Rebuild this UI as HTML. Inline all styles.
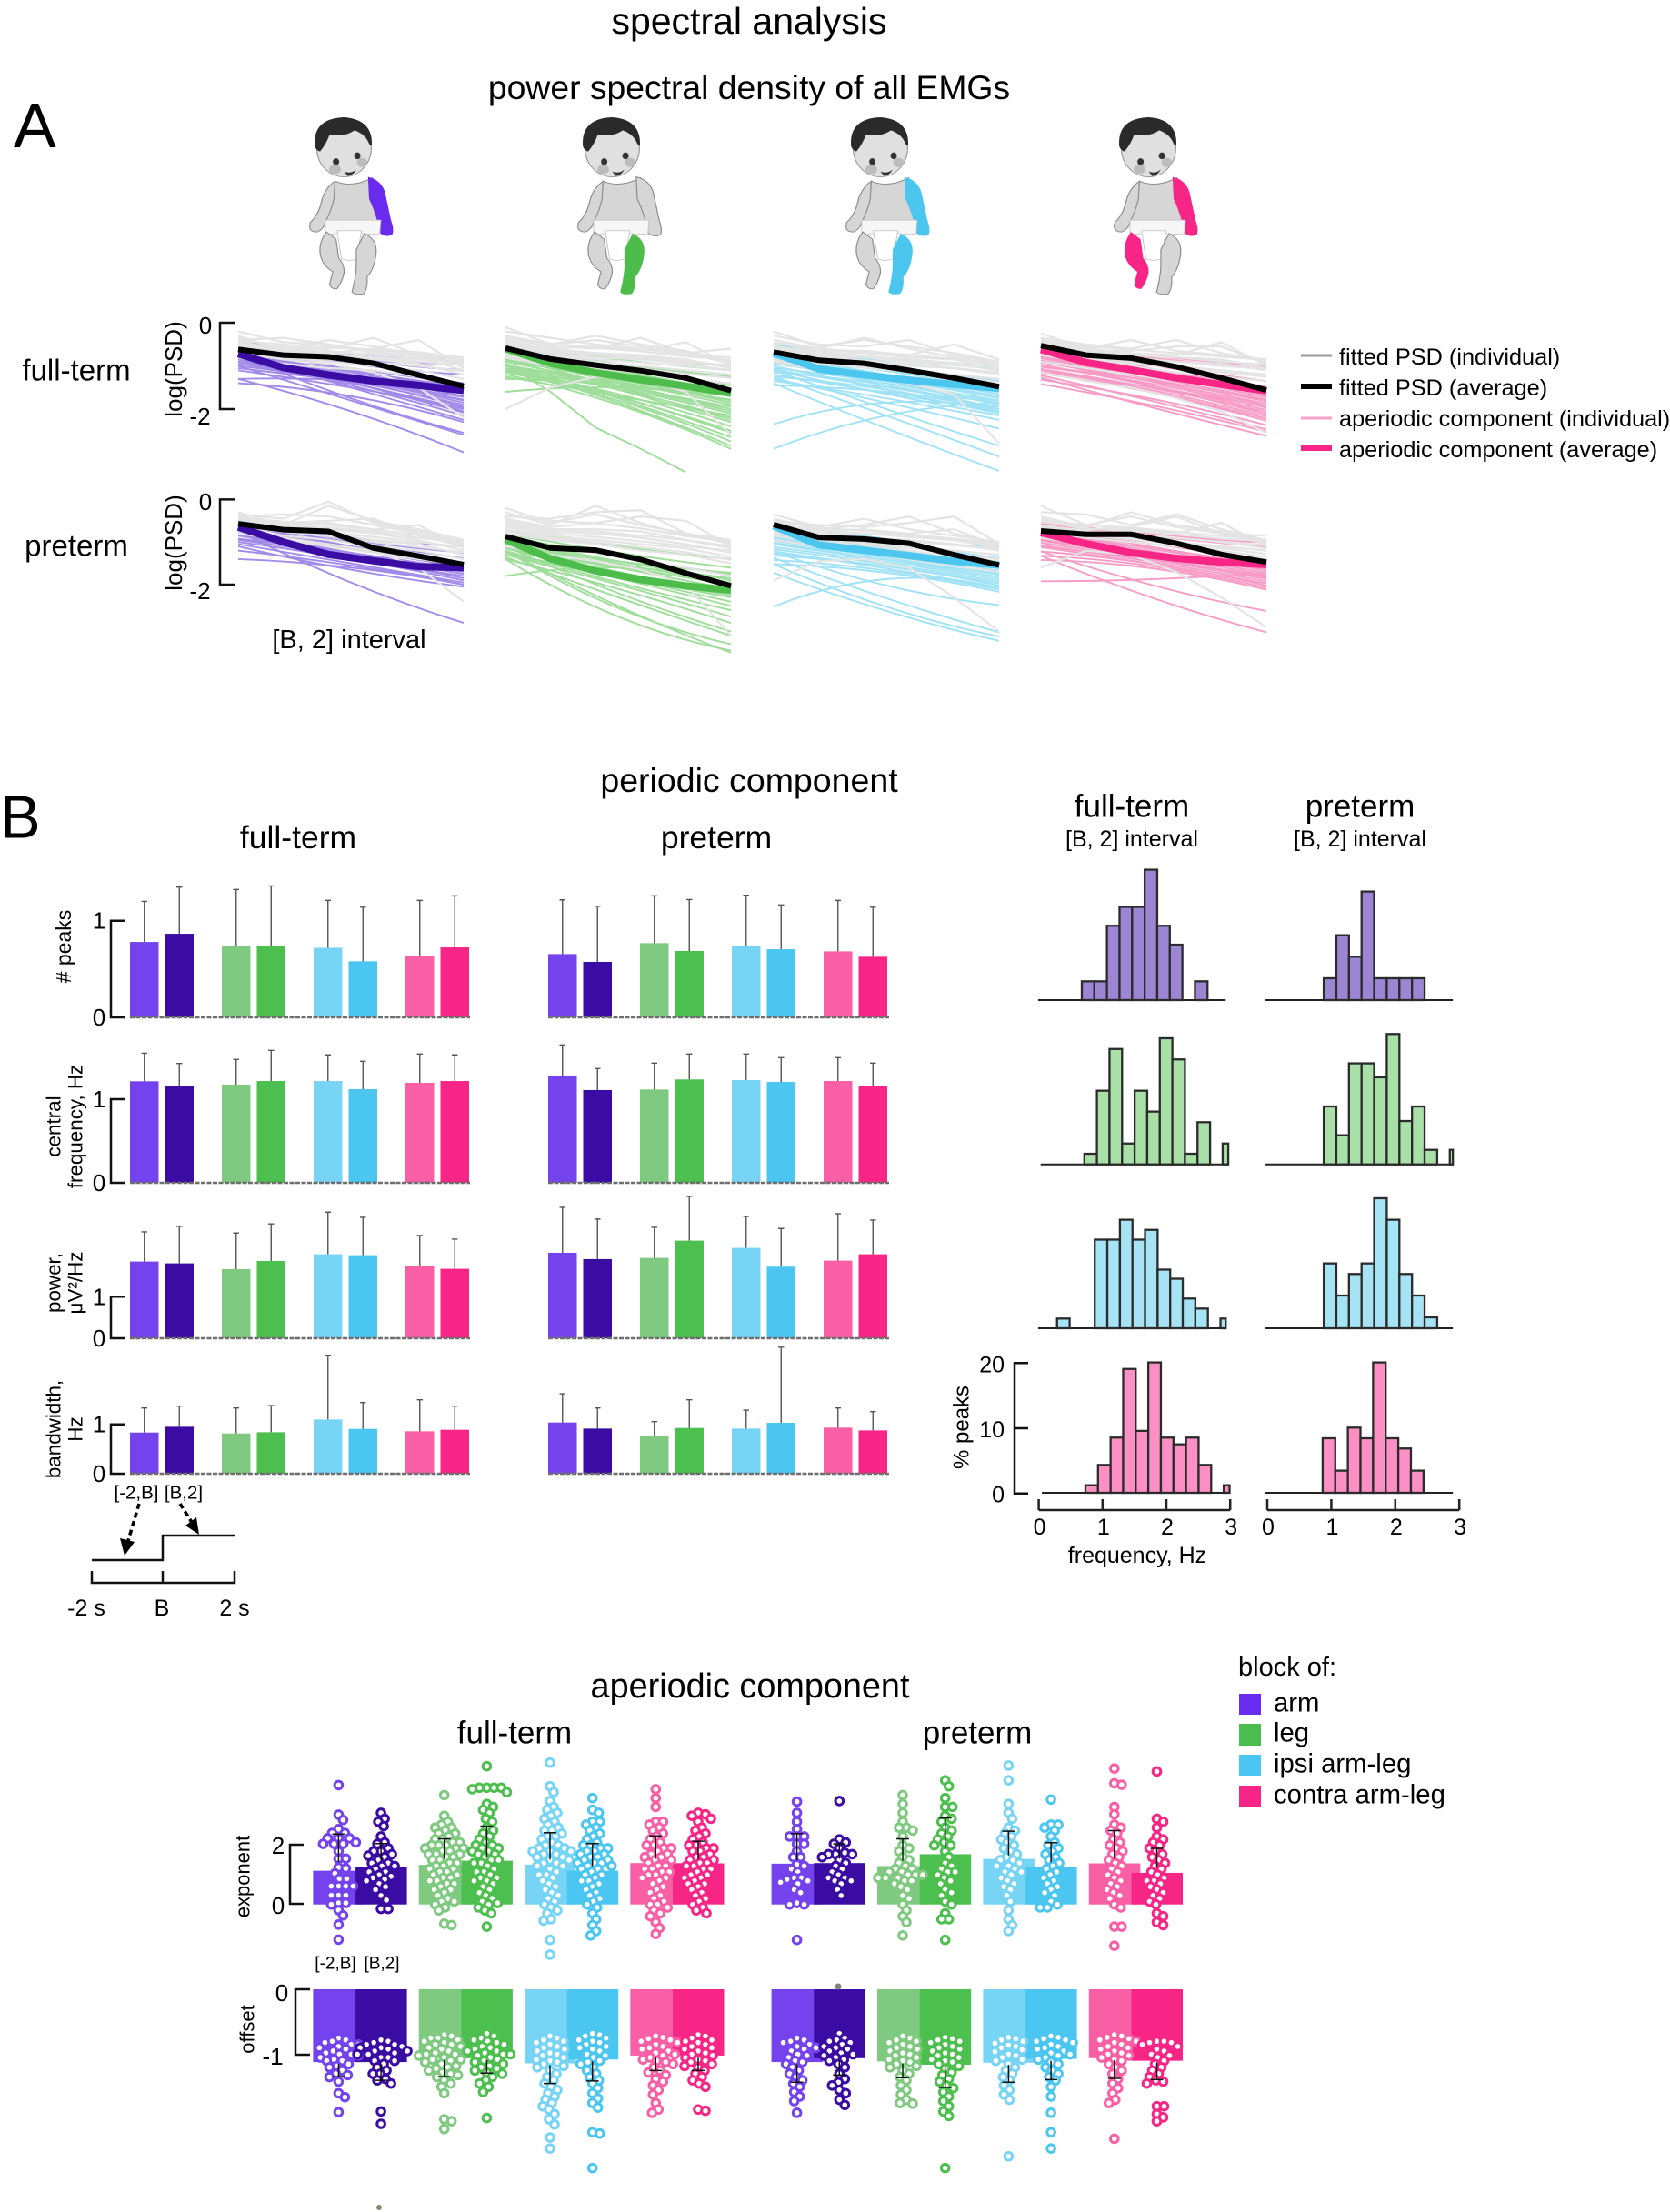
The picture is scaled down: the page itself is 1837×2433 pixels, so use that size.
<!DOCTYPE html>
<html lang="en"><head><meta charset="utf-8"><title>spectral analysis</title>
<style>
html,body{margin:0;padding:0;background:#fff}
svg{display:block}
text{font-family:"Liberation Sans",sans-serif;fill:#000;dominant-baseline:central}
.m{text-anchor:middle}
.e{text-anchor:end}
</style></head><body>
<svg id="fig" xmlns="http://www.w3.org/2000/svg" width="1837" height="2433" viewBox="0 0 1837 2433">
<rect width="1837" height="2433" fill="#fff"/>
<text x="824" y="23" class="m" font-size="41">spectral analysis</text>
<text x="824" y="96" class="m" font-size="37.3">power spectral density of all EMGs</text>
<text x="15" y="138" font-size="70">A</text>
<text x="84" y="407" class="m" font-size="33">full-term</text>
<text x="84" y="600" class="m" font-size="33">preterm</text>
<text transform="translate(191,406) rotate(-90)" class="m" font-size="26">log(PSD)</text>
<text transform="translate(191,597) rotate(-90)" class="m" font-size="26">log(PSD)</text>
<text x="384" y="704" class="m" font-size="29">[B, 2] interval</text>
<g id="babies"></g>
<g id="psd"></g>
<g>
<line x1="1431" x2="1465" y1="391" y2="391" stroke="#999" stroke-width="3"/>
<line x1="1431" x2="1465" y1="425" y2="425" stroke="#000" stroke-width="6"/>
<line x1="1431" x2="1465" y1="460" y2="460" stroke="#f7a0c9" stroke-width="3"/>
<line x1="1431" x2="1465" y1="493" y2="493" stroke="#f72585" stroke-width="6"/>
<text x="1473" y="393" font-size="25.3">fitted PSD (individual)</text>
<text x="1473" y="427" font-size="25.3">fitted PSD (average)</text>
<text x="1473" y="461" font-size="25.3">aperiodic component (individual)</text>
<text x="1473" y="495" font-size="25.3">aperiodic component (average)</text>
</g>
<text x="824" y="858" class="m" font-size="37.5">periodic component</text>
<text x="0" y="899" font-size="67">B</text>
<text x="328" y="921" class="m" font-size="35.5">full-term</text>
<text x="788" y="921" class="m" font-size="35.5">preterm</text>
<text transform="translate(70,1041) rotate(-90)" class="m" font-size="23"># peaks</text>
<text transform="translate(59,1239) rotate(-90)" class="m" font-size="22.4">central</text>
<text transform="translate(83,1239) rotate(-90)" class="m" font-size="22.4">frequency, Hz</text>
<text transform="translate(59,1411) rotate(-90)" class="m" font-size="22.4">power,</text>
<text transform="translate(83,1411) rotate(-90)" class="m" font-size="22.4">μV²/Hz</text>
<text transform="translate(59,1572) rotate(-90)" class="m" font-size="22.4">bandwidth,</text>
<text transform="translate(83,1572) rotate(-90)" class="m" font-size="22.4">Hz</text>
<g id="bars"></g>
<g>
<text x="150" y="1642" class="m" font-size="20.5">[-2,B]</text>
<text x="202" y="1642" class="m" font-size="20.5">[B,2]</text>
<line x1="153" y1="1654" x2="140" y2="1698" stroke="#000" stroke-width="3.5" stroke-dasharray="6 4"/>
<polygon points="132,1692 148,1696 137,1711" fill="#000"/>
<line x1="198" y1="1654" x2="212" y2="1676" stroke="#000" stroke-width="3.5" stroke-dasharray="6 4"/>
<polygon points="204,1678 216,1669 219,1688" fill="#000"/>
<path d="M101 1716H179V1689H258" fill="none" stroke="#111" stroke-width="2.5"/>
<path d="M101 1728V1741H258V1728M179 1728V1741" fill="none" stroke="#111" stroke-width="2.5"/>
<text x="95" y="1769" class="m" font-size="25">-2 s</text>
<text x="178" y="1769" class="m" font-size="25">B</text>
<text x="258" y="1769" class="m" font-size="25">2 s</text>
</g>
<text x="1245" y="887" class="m" font-size="35">full-term</text>
<text x="1496" y="887" class="m" font-size="35">preterm</text>
<text x="1245" y="923" class="m" font-size="25">[B, 2] interval</text>
<text x="1496" y="923" class="m" font-size="25">[B, 2] interval</text>
<g id="hists"></g>
<text transform="translate(1058,1570) rotate(-90)" class="m" font-size="24">% peaks</text>
<text x="1251" y="1711" class="m" font-size="25">frequency, Hz</text>
<text x="825" y="1855" class="m" font-size="37.8">aperiodic component</text>
<text x="566" y="1906" class="m" font-size="35">full-term</text>
<text x="1075" y="1906" class="m" font-size="35">preterm</text>
<text transform="translate(267,2064) rotate(-90)" class="m" font-size="22">exponent</text>
<text transform="translate(272,2232) rotate(-90)" class="m" font-size="22">offset</text>
<text x="369" y="2160" class="m" font-size="19">[-2,B]</text>
<text x="420" y="2160" class="m" font-size="19">[B,2]</text>
<g id="swarms"></g>
<circle cx="417" cy="2428" r="3" fill="#8a8a70"/>
<circle cx="922" cy="2185" r="3.5" fill="#808078"/>
<g>
<text x="1362" y="1834" font-size="29">block of:</text>
<rect x="1363" y="1863" width="24" height="23" fill="#6a2cef"/>
<rect x="1363" y="1896" width="24" height="24" fill="#4cbd4f"/>
<rect x="1363" y="1930" width="24" height="23" fill="#4ac6f0"/>
<rect x="1363" y="1964" width="24" height="24" fill="#f72585"/>
<text x="1401" y="1873" font-size="29.3">arm</text>
<text x="1401" y="1906" font-size="29.3">leg</text>
<text x="1401" y="1940" font-size="29.3">ipsi arm-leg</text>
<text x="1401" y="1974" font-size="29.3">contra arm-leg</text>
</g>
</svg>
<script>
// ---------- Section A data (log PSD values) ----------
const ftArmFitted=[-.62,-.75,-.79,-.94,-1.21,-1.47];
const ftArmAperiodic=[-.72,-1.04,-1.21,-1.35,-1.45,-1.57];
const ftLegFitted=[-.59,-.84,-.98,-1.11,-1.28,-1.57];
const ftLegAperiodic=[-.6,-.94,-1.16,-1.32,-1.47,-1.63];
const ftIpsiFitted=[-.68,-.87,-.94,-1.1,-1.28,-1.48];
const ftIpsiAperiodic=[-.7,-1.07,-1.21,-1.33,-1.43,-1.52];
const ftContraFitted=[-.53,-.75,-.82,-1.02,-1.28,-1.56];
const ftContraAperiodic=[-.62,-.92,-1.09,-1.28,-1.43,-1.58];
const ptArmFitted=[-.57,-.71,-.75,-1.14,-1.33,-1.53];
const ptArmAperiodic=[-.65,-1,-1.29,-1.44,-1.58,-1.6];
const ptLegFitted=[-.87,-1.14,-1.19,-1.41,-1.73,-2.03];
const ptLegAperiodic=[-.94,-1.39,-1.68,-1.88,-2.03,-2.13];
const ptIpsiFitted=[-.59,-.89,-.93,-1.03,-1.3,-1.54];
const ptIpsiAperiodic=[-.62,-1.07,-1.19,-1.32,-1.45,-1.54];
const ptContraFitted=[-.74,-.82,-.82,-1.03,-1.29,-1.47];
const ptContraAperiodic=[-.78,-1.04,-1.25,-1.38,-1.47,-1.53];

const ftArmGray=[[-.35,-.6,-.55,-.65,-.7,-.8],[-.2,-.45,-.5,-.7,-.75,-.85],[-.4,-.35,-.5,-.65,-.85,-.9],[-.45,-.6,-.4,-.55,-.75,-.95],[-.3,-.65,-.6,-.35,-.75,-1],[-.5,-.55,-.7,-.6,-.4,-1.05],[-.55,-.7,-.65,-.75,-.8,-1.1],[-.6,-.75,-.8,-.85,-.95,-1.2],[-.65,-.8,-.9,-1,-1.1,-1.3],[-.8,-.95,-1.05,-1.1,-1.25,-1.45],[-.7,-.85,-.95,-1.15,-1.5,-2.2],[-.45,-.65,-.72,-.8,-.85,-.88],[-.5,-.68,-.75,-.82,-.9,-.98],[-.58,-.62,-.68,-.72,-.82,-.92],[-.72,-.78,-.85,-.92,-1,-1.12],[-.42,-.5,-.58,-.62,-.68,-.82]];
const ftLegGray=[[-.1,-.5,-.4,-.55,-.7,-.6],[-.2,-.35,-.5,-.6,-.75,-.8],[-.3,-.5,-.3,-.5,-.65,-.9],[-.35,-.55,-.6,-.35,-.7,-.95],[-.4,-.6,-.55,-.65,-.45,-1],[-.5,-.6,-.7,-.75,-.85,-1.05],[-.55,-.7,-.8,-.85,-.95,-1.1],[-.65,-.8,-.9,-1,-1.1,-1.2],[-.75,-.95,-1.05,-1.15,-1.3,-1.4],[-2,-1.5,-1.25,-1.3,-1.4,-1.6],[-.8,-1,-1.1,-1.3,-1.6,-2.6],[-.45,-.62,-.7,-.78,-.88,-1],[-.6,-.75,-.85,-.92,-1,-1.1],[-.35,-.48,-.58,-.66,-.78,-.86],[-.52,-.66,-.74,-.82,-.92,-.98],[-.7,-.88,-.98,-1.06,-1.18,-1.28]];
const ftIpsiGray=[[-.2,-.55,-.4,-.55,-.7,-.9],[-.3,-.5,-.55,-.4,-.75,-.95],[-.4,-.6,-.35,-.6,-.8,-1],[-.45,-.65,-.65,-.75,-.5,-.85],[-.55,-.7,-.7,-.8,-.85,-1.05],[-.6,-.75,-.8,-.85,-.95,-1.1],[-.65,-.8,-.9,-1,-1.05,-1.2],[-.75,-.9,-1,-1.1,-1.2,-1.3],[-.85,-1.05,-1.15,-1.25,-1.35,-1.55],[-.9,-1.1,-1.25,-1.4,-1.65,-2.8],[-.55,-.67,-.77,-.85,-.93,-1],[-.67,-.77,-.87,-.95,-1.05,-1.15],[-.48,-.6,-.68,-.74,-.84,-.94],[-.78,-.94,-1.04,-1.14,-1.24,-1.38],[-.62,-.72,-.8,-.9,-.98,-1.08]];
const ftContraGray=[[-.25,-.6,-.4,-.65,-.75,-.85],[-.35,-.5,-.6,-.4,-.7,-.9],[-.4,-.65,-.65,-.55,-.55,-.95],[-.45,-.6,-.7,-.75,-.45,-1],[-.5,-.7,-.75,-.8,-.85,-1.05],[-.55,-.75,-.8,-.9,-.95,-1.1],[-.65,-.8,-.9,-1,-1.1,-1.2],[-.75,-.9,-1,-1.15,-1.25,-1.35],[-.9,-1.05,-1.2,-1.35,-1.5,-1.65],[-1.15,-1.35,-1.5,-1.75,-2.05,-2.55],[-.47,-.65,-.73,-.8,-.9,-.97],[-.6,-.75,-.83,-.9,-1,-1.07],[-.4,-.55,-.62,-.7,-.78,-.86],[-.7,-.85,-.95,-1.05,-1.15,-1.25]];
const ptArmGray=[[-.3,-.6,-.15,-.5,-.7,-.95],[-.35,-.45,-.05,-.55,-.75,-1],[-.4,-.35,-.4,-.6,-.8,-1.05],[-.45,-.55,-.5,-.45,-.85,-1.1],[-.5,-.6,-.55,-.7,-.6,-1.15],[-.55,-.65,-.7,-.8,-.95,-1.2],[-.6,-.7,-.8,-.95,-1.05,-1.3],[-.7,-.85,-.95,-1.1,-1.2,-1.4],[-.8,-.95,-1.1,-1.25,-1.4,-1.55],[-.75,-.9,-1.05,-1.2,-1.6,-2.4],[-.48,-.6,-.66,-.75,-.9,-1.02],[-.55,-.68,-.76,-.88,-1,-1.12],[-.42,-.52,-.6,-.7,-.84,-.98],[-.64,-.76,-.86,-1,-1.12,-1.24]];
const ptLegGray=[[-.2,-.55,-.35,-.6,-.8,-.95],[-.3,-.6,-.15,-.55,-.85,-1],[-.4,-.45,-.3,-.25,-.8,-1.05],[-.45,-.65,-.55,-.4,-.5,-1.1],[-.5,-.7,-.7,-.75,-.95,-1.15],[-.6,-.75,-.8,-.9,-1.05,-1.25],[-.7,-.85,-.95,-1.05,-1.15,-1.35],[-.8,-.95,-1.05,-1.2,-1.3,-1.5],[-.95,-1.1,-1.25,-1.4,-1.6,-1.8],[-1.1,-1.3,-1.45,-1.65,-2,-3.2],[-.55,-.7,-.75,-.85,-.95,-1.1],[-.65,-.8,-.88,-.98,-1.1,-1.2],[-.38,-.5,-.56,-.68,-.86,-1],[-.75,-.9,-1,-1.12,-1.24,-1.42]];
const ptIpsiGray=[[-.35,-.65,-.45,-.7,-.85,-1],[-.45,-.7,-.6,-.4,-.8,-1.05],[-.5,-.6,-.65,-.55,-.4,-1.05],[-.55,-.75,-.7,-.8,-.7,-1.1],[-.6,-.8,-.8,-.85,-.95,-1.15],[-.65,-.8,-.9,-.95,-1.05,-1.2],[-.75,-.9,-1,-1.1,-1.2,-1.3],[-.85,-1,-1.1,-1.2,-1.35,-1.45],[-.95,-1.1,-1.25,-1.4,-1.55,-1.7],[-1.9,-1.45,-1.4,-1.6,-2.3,-3.1],[-.58,-.72,-.8,-.88,-.96,-1.08],[-.68,-.82,-.9,-.98,-1.08,-1.16],[-.52,-.66,-.74,-.82,-.92,-1.04],[-.8,-.94,-1.04,-1.14,-1.28,-1.4]];
const ptContraGray=[[-.15,-.6,-.4,-.65,-.8,-.85],[-.3,-.35,-.6,-.35,-.7,-.95],[-.4,-.65,-.3,-.6,-.75,-1],[-.45,-.7,-.65,-.4,-.8,-1.05],[-.5,-.7,-.7,-.8,-.55,-1.1],[-.6,-.75,-.8,-.9,-1,-1.15],[-.65,-.8,-.9,-1,-1.1,-1.2],[-.75,-.9,-1,-1.1,-1.2,-1.35],[-.9,-1.05,-1.2,-1.3,-1.45,-1.6],[-1.6,-1.2,-1.3,-1.7,-2.3,-3],[-.52,-.68,-.74,-.82,-.92,-.98],[-.62,-.76,-.82,-.9,-1,-1.08],[-.48,-.6,-.66,-.76,-.86,-.94],[-.7,-.84,-.94,-1.04,-1.14,-1.28]];

const ftArmLines=[[-.6,-1.1,-1.55],[-.7,-1.15,-1.6],[-.75,-1.2,-1.7],[-.8,-1.2,-1.62],[-.65,-1.25,-1.8],[-.85,-1.3,-1.85],[-.9,-1.35,-1.9],[-.7,-1.3,-1.95],[-.9,-1.4,-2],[-1,-1.4,-2.05],[-.85,-1.45,-2.15],[-.75,-1.5,-2.25],[-1.05,-1.35,-1.6],[-1.3,-1.33,-1.55],[-1.4,-1.7,-2.3],[-.75,-1.75,-2.55],[-1,-1.8,-2.6],[-1.3,-2.05,-3],[-.5,-.95,-1.2],[-.45,-.85,-1.1],[-.55,-.85,-.95],[-.4,-.75,-.8],[-.62,-1.05,-1.4],[-.72,-1.12,-1.48],[-.78,-1.28,-1.78],[-.95,-1.32,-1.72],[-1.1,-1.5,-1.98],[-.68,-1.38,-2.08]];
const ftLegLines=[[-.6,-1.1,-1.6],[-.7,-1.2,-1.7],[-.65,-1.25,-1.8],[-.8,-1.3,-1.85],[-.85,-1.35,-1.9],[-.75,-1.4,-2],[-.9,-1.45,-2.05],[-1,-1.5,-2.1],[-1.05,-1.55,-2.2],[-.85,-1.55,-2.3],[-1.1,-1.65,-2.4],[-1,-1.7,-2.55],[-.95,-1.75,-2.65],[-1.15,-1.8,-2.75],[-1.05,-1.85,-2.85],[-1.2,-1.9,-2.92],[-1.6,-1.5,-1.7],[-1.3,-1.45,-1.8],[-.96,-1.6,-2.43,-2.92,-3.46],[-.55,-.95,-1.25],[-.5,-.85,-1.1],[-.5,-.8,-1],[-.62,-1.05,-1.45],[-.72,-1.15,-1.55],[-.9,-1.25,-1.65],[-.98,-1.4,-1.78],[-1.1,-1.48,-1.95],[-1.25,-1.7,-2.15],[-.78,-1.5,-2.25],[-1.12,-1.72,-2.5]];
const ftIpsiLines=[[-.7,-1.1,-1.55],[-.75,-1.2,-1.65],[-.8,-1.25,-1.7],[-.9,-1.3,-1.75],[-.85,-1.35,-1.8],[-.95,-1.35,-1.85],[-1.05,-1.4,-1.9],[-.9,-1.45,-2],[-1.15,-1.45,-2],[-1.25,-1.55,-2.05],[-1,-1.55,-2.1],[-1.45,-1.6,-1.95],[-1.1,-1.65,-2.15],[-2.35,-1.85,-2],[-2.92,-2.15,-1.85],[-1.3,-1.85,-2.45],[-1.1,-2,-2.85],[-1.25,-2.15,-3.1],[-1.4,-2.45,-3.43],[-.55,-.9,-1.15],[-.5,-.85,-1.05],[-.65,-1,-1.35],[-.72,-1.12,-1.45],[-.82,-1.22,-1.6],[-.95,-1.3,-1.7],[-1.08,-1.5,-1.85],[-1.2,-1.62,-2.05],[-1.35,-1.75,-2.25]];
const ftContraLines=[[-.57,-1.07,-1.62],[-.67,-1.17,-1.67],[-.72,-1.22,-1.72],[-.77,-1.27,-1.77],[-.82,-1.32,-1.82],[-.87,-1.37,-1.87],[-.92,-1.37,-1.92],[-1.02,-1.42,-1.97],[-.97,-1.47,-2.02],[-1.07,-1.52,-2.07],[-.87,-1.47,-2.12],[-1.12,-1.57,-2.17],[-1.17,-1.62,-2.22],[-1.07,-1.62,-2.27],[-1.32,-1.77,-2.37],[-1.22,-1.82,-2.47],[-1.42,-1.92,-2.52],[-1.27,-1.97,-2.62],[-.47,-.77,-1.02],[-.52,-.82,-1.07],[-.6,-1,-1.35],[-.7,-1.08,-1.48],[-.8,-1.2,-1.58],[-.92,-1.25,-1.7],[-1.02,-1.35,-1.8],[-1.15,-1.5,-1.95]];
const ptArmLines=[[-.6,-1.1,-1.55],[-.7,-1.15,-1.6],[-.75,-1.25,-1.7],[-.85,-1.3,-1.75],[-.8,-1.35,-1.8],[-.95,-1.35,-1.85],[-1,-1.4,-1.9],[-1.05,-1.5,-1.95],[-1.2,-1.55,-2],[-1.4,-1.6,-2],[-1.1,-1.65,-2.05],[-.75,-1.95,-2.9],[-.5,-.95,-1.25],[-.5,-.9,-1.1],[-.62,-1,-1.38],[-.72,-1.1,-1.48],[-.92,-1.25,-1.65]];
const ptLegLines=[[-.85,-1.35,-1.75],[-.9,-1.45,-1.85],[-.95,-1.5,-1.95],[-1,-1.55,-2],[-1.05,-1.6,-2.1],[-1.1,-1.7,-2.2],[-1,-1.75,-2.3],[-1.15,-1.8,-2.4],[-1.25,-1.85,-2.5],[-1.2,-1.95,-2.6],[-1.3,-2,-2.75],[-1.4,-2.1,-2.9],[-1.1,-2.2,-3.1],[-1.35,-2.3,-3.2],[-1.2,-2.55,-3.4],[-1.4,-2.75,-3.55],[-1.8,-1.6,-1.9],[-1.2,-2.5,-3.6],[-.7,-1.1,-1.4],[-.8,-1.25,-1.6],[-1.05,-1.45,-1.72],[-1.15,-1.6,-1.95],[-1.3,-1.8,-2.25]];
const ptIpsiLines=[[-.72,-1.12,-1.57],[-.77,-1.22,-1.62],[-.82,-1.27,-1.67],[-.92,-1.32,-1.72],[-.97,-1.37,-1.77],[-1.02,-1.42,-1.82],[-1.12,-1.47,-1.87],[-1.17,-1.52,-1.92],[-1.27,-1.57,-1.97],[-1.32,-1.57,-2.02],[-1.22,-1.62,-2.07],[-1.42,-1.67,-2.12],[-1.52,-1.72,-2.17],[-2.52,-1.87,-2.07],[-1.22,-2.02,-2.48],[-1.37,-2.32,-3.12],[-1.52,-2.52,-3.22],[-1.72,-2.62,-3.32],[-.57,-.92,-1.12],[-.65,-1.02,-1.38],[-.75,-1.15,-1.5],[-.88,-1.25,-1.6],[-1.05,-1.42,-1.75]];
const ptContraLines=[[-.67,-1.12,-1.57],[-.72,-1.17,-1.62],[-.77,-1.22,-1.67],[-.82,-1.27,-1.72],[-.87,-1.32,-1.77],[-.92,-1.37,-1.82],[-.97,-1.37,-1.84],[-1.02,-1.42,-1.87],[-1.07,-1.47,-1.92],[-1.12,-1.52,-1.97],[-1.22,-1.52,-2.02],[-1.32,-1.57,-2.07],[-1.42,-1.62,-2.12],[-1.92,-1.87,-1.72],[-1.22,-2.02,-2.62],[-1.32,-2.32,-3.12],[-.57,-.87,-1.12],[-.52,-.82,-1.02],[-.7,-1.05,-1.42],[-.8,-1.15,-1.52],[-.95,-1.28,-1.65],[-1.1,-1.42,-1.8]];

// ---------- Section B data (bar heights, error tops) ----------
const peaksFT=[.78,.865,.74,.74,.72,.58,.636,.724];
const peaksFTErr=[1.2,1.348,1.323,1.36,1.21,1.14,1.21,1.257];
const peaksPT=[.655,.574,.768,.687,.74,.705,.683,.627];
const peaksPTErr=[1.216,1.15,1.257,1.219,1.263,1.163,1.21,1.14];
const freqFT=[1.214,1.152,1.174,1.217,1.217,1.12,1.196,1.217];
const freqFTErr=[1.55,1.427,1.475,1.584,1.53,1.453,1.54,1.53];
const freqPT=[1.283,1.109,1.116,1.236,1.228,1.207,1.217,1.163];
const freqPTErr=[1.649,1.366,1.431,1.54,1.54,1.497,1.497,1.431];
const powerFT=[1.847,1.803,1.664,1.861,2.022,2,1.737,1.672];
const powerFTErr=[2.562,2.693,2.533,2.752,3.036,2.912,2.474,2.387];
const powerPT=[2.058,1.905,1.934,2.35,2.175,1.723,1.869,2.022];
const powerPTErr=[3.153,2.869,2.672,3.416,2.934,2.642,3,2.847];
const bandFT=[.834,.951,.816,.84,1.098,.908,.859,.89];
const bandFTErr=[1.331,1.368,1.331,1.38,2.399,1.442,1.497,1.368];
const bandPT=[1.037,.914,.767,.926,.914,1.031,.933,.877];
const bandPTErr=[1.62,1.331,1.055,1.497,1.288,2.564,1.331,1.258];
const barTickLabels=["0","1"];

// ---------- Histogram data (% peaks per bin, first-bin frequency in Hz) ----------
const histFTArm=[2.88,2.88,11.4,14.3,14.3,20,11.4,8.5,0,2.88];
const histPTArm=[3.35,9.95,6.65,16.65,3.35,3.35,3.35,3.35];
const histFTLeg=[1.63,11.3,17.7,3.2,11.3,8.1,19.35,16.1,1.63,6.47,0,3.2];
const histPTLeg=[8.88,4.47,15.5,15.5,13.35,20,6.65,8.88,2.23,0,2.23];
const histFTIpsi=[1.49,0,0,13.6,13.6,16.65,13.6,15.1,9,7.6,4.56,3.02,0,1.49];
const histPTIpsi=[9.95,5.02,8.33,9.95,19.95,16.65,8.33,5.02,1.67];
const histFTContra=[1.16,4.28,8.47,19,9.5,20,8.47,7.44,8.47,4.28,0,1.16];
const histPTContra=[8.37,3.4,10,8.37,20,8.37,6.8,3.4];
const histFTStarts=[.675,.715,.287,.732];
const histPTStarts=[.882,.882,.882,.865];
const histYTicks=[0,10,20];
const histXTicks=[0,1,2,3];

// ---------- Section C data ----------
const expMeansFT=[1.14,1.28,1.34,1.48,1.35,1.14,1.4,1.39];
const expMeansPT=[1.38,1.4,1.3,1.7,1.54,1.27,1.39,1.07];
const expErrTopFT=[2.385,2.06,2.22,2.65,2.43,2.06,2.32,2.14];
const expErrBotFT=[1.43,1.49,1.55,1.61,1.52,1.3,1.55,1.52];
const expErrTopPT=[2.4,2.05,2.22,2.93,2.48,2.09,2.5,1.9];
const expErrBotPT=[1.49,1.55,1.48,1.86,1.66,1.43,1.55,1.24];
const offMeansFT=[-1.12,-1.12,-1.06,-1.06,-1.14,-1.08,-1.02,-1.02];
const offMeansPT=[-1.12,-1.06,-1.11,-1.16,-1.13,-1.07,-1.06,-1.1];
const offErrFT=[-1.345,-1.4,-1.345,-1.29,-1.45,-1.41,-1.25,-1.25];
const offErrPT=[-1.43,-1.32,-1.36,-1.51,-1.43,-1.39,-1.37,-1.39];

const expPtsFT=[
[4.04,3.04,2.86,2.55,2.42,2.42,2.24,2.24,2.24,2.1,2.05,2.05,2.05,1.8,1.55,1.55,1.25,1.22,1.05,.87,.87,.62,.62,.62,.62,.31,.31,.31,.05,.05,0,-.19,-.37,-.68,-1.19],
[3.1,2.9,2.8,2.65,2.3,2.1,2.05,1.9,1.8,1.8,1.7,1.65,1.6,1.5,1.4,1.4,1.3,1.3,1.2,1.1,1.1,1,.95,.9,.85,.8,.7,.6,.5,.3,.15,-.15,-.15],
[3.7,3,2.8,2.7,2.6,2.6,2.5,2.4,2.4,2.3,2.2,2.2,2.1,2.1,2,2,2,1.9,1.9,1.9,1.8,1.8,1.7,1.7,1.7,1.6,1.6,1.5,1.5,1.4,1.4,1.3,1.3,1.2,1.2,1.1,1.1,1,1,.9,.9,.8,.8,.7,.7,.6,.5,.5,.4,.3,.2,.1,.1,0,-.1,-.2,-.65,-.7],
[4.68,3.95,3.95,3.95,3.95,3.9,3.8,3.4,3.3,3.2,3.1,2.9,2.8,2.6,2.5,2.4,2.3,2.2,2.1,2,2,1.9,1.9,1.8,1.8,1.7,1.7,1.6,1.5,1.5,1.4,1.4,1.3,1.2,1.1,1.1,1,.9,.9,.8,.8,.7,.6,.5,.4,.3,.2,.1,.05,0,-.1,-.2,-.3,-.75],
[4.8,4,3.8,3.5,3.3,3.2,3.1,3,2.9,2.8,2.7,2.6,2.5,2.5,2.4,2.3,2.3,2.2,2.1,2,2,1.9,1.9,1.8,1.8,1.8,1.7,1.7,1.6,1.6,1.5,1.5,1.4,1.4,1.3,1.3,1.2,1.1,1,1,.9,.8,.7,.6,.5,.4,.3,.2,.1,0,-.1,-.2,-.3,-.5,-.55,-1.2,-1.7],
[3.6,3.2,3.1,2.8,2.8,2.7,2.6,2.5,2.4,2.3,2.2,2.1,2,2,1.9,1.9,1.8,1.8,1.7,1.7,1.6,1.6,1.5,1.5,1.4,1.4,1.4,1.3,1.3,1.2,1.2,1.1,1,1,.9,.8,.8,.7,.6,.5,.4,.3,.2,.1,0,-.1,-.3,-.5,-.7,-.9,-1.05],
[3.9,3.6,3.3,2.8,2.8,2.7,2.6,2.5,2.4,2.3,2.2,2.1,2,2,1.9,1.9,1.8,1.7,1.7,1.6,1.6,1.5,1.5,1.4,1.3,1.3,1.2,1.2,1.1,1.1,1,1,.9,.9,.8,.7,.6,.5,.4,.3,.2,.1,0,0,-.1,-.2,-.3,-.4,-.6,-.8,-1],
[3.1,3.05,3,2.9,2.8,2.6,2.5,2.4,2.3,2.2,2.1,2,2,1.9,1.9,1.8,1.8,1.7,1.6,1.6,1.5,1.5,1.4,1.4,1.3,1.3,1.2,1.2,1.1,1,1,.9,.9,.8,.7,.7,.6,.5,.4,.3,.2,.1,0,-.1,-.2,-.3]];
const expPtsPT=[
[3.48,3.1,2.8,2.55,2.3,2.3,2.3,2.05,2.05,1.8,1.6,1.6,1.35,1.3,1.2,1.1,.9,.9,.85,.8,.75,.7,.5,.4,.05,0,0,-1.2],
[3.5,2.2,2.1,2.05,1.9,1.75,1.7,1.7,1.7,1.6,1.5,1.4,1.3,1.2,1.1,1,.9,.9,.8,.8,.7,.5,.3],
[3.7,3.4,3.1,2.8,2.6,2.6,2.5,2.3,2,1.9,1.8,1.6,1.5,1.4,1.3,1.2,1.2,1.1,1.1,1,1,1,.9,.9,.9,.8,.8,.7,.6,.5,.3,.2,0,-.2,-.4,-.6,-1.05],
[4.2,4,3.6,3.3,3.3,3,2.9,2.8,2.6,2.5,2.4,2.3,2.2,2.1,2,2,1.8,1.6,1.4,1.3,1.2,1.1,1.1,1,.9,.8,.7,.5,.4,.3,.1,0,-.3,-.5,-.5,-1.2],
[4.7,4.2,3.4,3.1,2.9,2.6,2.5,2.4,2.3,2.2,2.1,2,1.9,1.8,1.7,1.6,1.5,1.5,1.4,1.3,1.3,1.2,1.1,1.1,1,.9,.8,.7,.6,.5,.3,.1,-.2,-.5,-.7,-.9],
[3.55,2.7,2.7,2.6,2.5,2.3,2.1,2,1.9,1.8,1.7,1.6,1.5,1.4,1.3,1.2,1.1,1,.9,.8,.7,.6,.5,.4,.3,.1,0,-.1,-.1],
[4.6,4.1,4.05,3.3,3.05,2.7,2.6,2.5,2.4,2.2,2.1,2,1.9,1.8,1.7,1.6,1.5,1.4,1.3,1.2,1.1,1,.9,.8,.7,.6,.5,.4,.3,.2,0,-.1,-.75,-.75,-1.4],
[4.5,2.9,2.8,2.6,2.3,2.2,2.1,2,1.9,1.8,1.7,1.6,1.5,1.4,1.3,1.2,1.1,1,.9,.8,.8,.7,.6,.5,.4,.3,.2,.1,0,-.3,-.4,-.6,-.7]];
const offPtsFT=[
[-.75,-.78,-.8,-.82,-.85,-.85,-.88,-.9,-.9,-.92,-.95,-.98,-1,-1,-1.02,-1.05,-1.08,-1.1,-1.1,-1.15,-1.18,-1.2,-1.25,-1.3,-1.32,-1.35,-1.42,-1.6,-1.66,-1.89],
[-.78,-.8,-.82,-.85,-.85,-.88,-.9,-.9,-.92,-.95,-.95,-.98,-1,-1,-1.05,-1.05,-1.1,-1.1,-1.15,-1.2,-1.25,-1.3,-1.3,-1.38,-1.4,-1.45,-1.88,-2.07],
[-.7,-.72,-.75,-.75,-.78,-.8,-.82,-.85,-.85,-.88,-.9,-.92,-.95,-.95,-.98,-1,-1,-1.02,-1.05,-1.08,-1.08,-1.1,-1.12,-1.15,-1.18,-1.2,-1.22,-1.25,-1.28,-1.3,-1.32,-1.35,-1.4,-1.45,-1.5,-1.6,-2,-2.03,-2.15],
[-.68,-.72,-.75,-.78,-.8,-.82,-.85,-.88,-.9,-.92,-.95,-.95,-.98,-1,-1,-1.02,-1.05,-1.08,-1.1,-1.12,-1.15,-1.18,-1.2,-1.22,-1.25,-1.28,-1.3,-1.35,-1.4,-1.45,-1.5,-1.58,-1.98],
[-.72,-.75,-.78,-.8,-.82,-.85,-.88,-.9,-.92,-.95,-.98,-1,-1.02,-1.05,-1.08,-1.1,-1.12,-1.15,-1.18,-1.2,-1.25,-1.3,-1.35,-1.4,-1.45,-1.5,-1.55,-1.6,-1.65,-1.7,-1.75,-1.8,-1.85,-1.92,-2,-2.08,-2.28,-2.45],
[-.68,-.7,-.72,-.75,-.78,-.8,-.82,-.85,-.88,-.9,-.92,-.95,-1,-1.02,-1.05,-1.1,-1.12,-1.15,-1.2,-1.25,-1.3,-1.35,-1.4,-1.45,-1.52,-1.6,-1.68,-1.75,-1.82,-2.2,-2.22,-2.75],
[-.72,-.74,-.76,-.78,-.8,-.82,-.85,-.88,-.9,-.92,-.95,-.98,-1,-1.02,-1.05,-1.08,-1.1,-1.12,-1.15,-1.2,-1.25,-1.28,-1.32,-1.38,-1.42,-1.48,-1.55,-1.62,-1.75,-1.85,-1.9],
[-.7,-.72,-.75,-.78,-.8,-.82,-.85,-.88,-.9,-.92,-.95,-.98,-1,-1.02,-1.05,-1.08,-1.1,-1.12,-1.15,-1.18,-1.2,-1.25,-1.3,-1.35,-1.4,-1.45,-1.5,-1.85,-1.87]];
const offPtsPT=[
[-.75,-.78,-.8,-.82,-.85,-.88,-.9,-.92,-.95,-1,-1.02,-1.05,-1.1,-1.12,-1.15,-1.2,-1.25,-1.3,-1.35,-1.4,-1.45,-1.5,-1.58,-1.65,-1.72,-1.9],
[-.68,-.75,-.78,-.8,-.82,-.85,-.88,-.9,-.92,-.95,-.98,-1,-1.02,-1.05,-1.08,-1.1,-1.15,-1.2,-1.3,-1.38,-1.43,-1.48,-1.55,-1.6,-1.7,-1.78],
[-.72,-.75,-.78,-.8,-.82,-.85,-.88,-.9,-.92,-.95,-.98,-1,-1.02,-1.05,-1.08,-1.1,-1.12,-1.15,-1.18,-1.2,-1.25,-1.3,-1.35,-1.4,-1.48,-1.55,-1.62,-1.7,-1.75,-1.76],
[-.74,-.76,-.78,-.8,-.82,-.85,-.88,-.9,-.92,-.95,-.98,-1,-1.02,-1.05,-1.08,-1.1,-1.12,-1.15,-1.18,-1.22,-1.28,-1.32,-1.38,-1.42,-1.48,-1.52,-1.58,-1.65,-1.72,-1.8,-1.88,-1.95,-2.75],
[-.74,-.76,-.78,-.8,-.83,-.86,-.88,-.9,-.93,-.96,-1,-1.02,-1.05,-1.08,-1.1,-1.15,-1.2,-1.25,-1.3,-1.35,-1.4,-1.48,-1.55,-1.62,-1.7,-2.57],
[-.72,-.74,-.76,-.78,-.8,-.82,-.85,-.88,-.9,-.92,-.95,-.98,-1,-1.02,-1.05,-1.08,-1.12,-1.15,-1.2,-1.25,-1.3,-1.35,-1.4,-1.5,-1.65,-1.9,-2.2,-2.45],
[-.7,-.72,-.74,-.76,-.78,-.8,-.82,-.85,-.88,-.9,-.92,-.95,-.98,-1,-1.02,-1.05,-1.08,-1.1,-1.15,-1.2,-1.25,-1.3,-1.38,-1.45,-1.52,-1.6,-1.7,-1.75,-2.3],
[-.8,-.8,-.82,-.82,-.85,-.88,-.92,-.95,-1,-1.02,-1.05,-1.1,-1.15,-1.2,-1.25,-1.3,-1.35,-1.4,-1.42,-1.45,-1.8,-1.8,-1.92,-1.97,-2.03]];

// ---------- Drawing helpers ----------
const NS='http://www.w3.org/2000/svg';
function mk(tag,attrs,parent){const e=document.createElementNS(NS,tag);for(const k in attrs)e.setAttribute(k,attrs[k]);parent.appendChild(e);return e;}
const armPath='M690 418Q715 425 722 455L733 520Q740 545 735 555Q722 562 712 550L708 525Q700 490 692 470Z';
const legPath='M683 552Q708 565 705 600Q702 635 688 655Q690 680 682 694Q665 698 660 690Q668 650 668 625L668 590Z';
const otherLegPath='M612 548Q596 575 601 605Q606 628 624 642Q620 660 618 672Q622 685 632 682Q642 665 645 645Q646 625 635 610L630 565Z';
const babySpecs=[
 {dx:0,arm:'#6a2bee',leg:null,other:null},
 {dx:295,arm:null,leg:'#4cbd4a',other:null},
 {dx:590,arm:'#4ac6ef',leg:'#4ac6ef',other:null},
 {dx:885,arm:'#f72585',leg:null,other:'#f72585'}];
const babies=document.getElementById('babies');
babySpecs.forEach(function(b,i){
 const g=mk('g',{transform:'translate('+b.dx+',0) scale(.5867,.4656)'},babies);
 
 
 const gray='#d6d6d6',ln='#8a8a8a';
 mk('path',{d:'M628 428Q612 470 612 530L712 530Q716 480 698 420Q660 445 628 428Z',fill:gray,stroke:ln,'stroke-width':2},g);
 mk('path',{d:'M628 428Q608 445 602 480Q596 510 582 525Q576 548 595 548Q608 540 610 525Q622 495 626 470Z',fill:gray,stroke:ln,'stroke-width':2},g);
 mk('path',{d:armPath,fill:b.arm||gray,stroke:b.arm?'none':ln,'stroke-width':2},g);
 mk('path',{d:'M610 520H714L712 552Q690 556 670 548L640 548Q625 556 610 552Z',fill:'#f6f6f6',stroke:'#c0c0c0','stroke-width':1.5},g);
 mk('path',{d:'M632 545L678 545L668 612Q654 618 640 612Z',fill:'#fff',stroke:'#c0c0c0','stroke-width':1.5},g);
 mk('path',{d:otherLegPath,fill:b.other||gray,stroke:b.other?'none':ln,'stroke-width':2},g);
 mk('path',{d:legPath,fill:b.leg||gray,stroke:b.leg?'none':ln,'stroke-width':2},g);
 mk('ellipse',{cx:645,cy:350,rx:51,ry:68,fill:'#e0e0e0',stroke:'#999','stroke-width':2},g);
 mk('path',{d:'M590 345Q586 280 645 277Q700 282 697 345L692 340Q686 318 665 308Q645 325 618 318Q612 340 600 358Q592 355 590 345Z',fill:'#2a2a2a'},g);
 mk('ellipse',{cx:628,cy:400,rx:11,ry:11,fill:'#bcbcbc'},g);
 mk('ellipse',{cx:679,cy:384,rx:10,ry:11,fill:'#bcbcbc'},g);
 mk('ellipse',{cx:630,cy:382,rx:6,ry:8,fill:'#333'},g);
 mk('ellipse',{cx:670,cy:368,rx:6,ry:8,fill:'#333'},g);
 mk('path',{d:'M645 405Q658 412 668 400Q662 415 652 416Z',fill:'#333'},g);
});

// ---------- Section A ----------
const psdLefts=[262,556,851,1145];
const psdWidth=248;
const psdRows=[{zero:355,unit:47.5,name:'full-term',l0:358,l2:458},{zero:549.4,unit:46.8,name:'preterm',l0:552,l2:650}];
const limbColors=[
 {line:'#a28ae9',avg:'#3a0ca3'},{line:'#9edd9a',avg:'#4cbd4a'},
 {line:'#a0e2f5',avg:'#4ac6ef'},{line:'#f69cc6',avg:'#f72585'}];
const psdSets=[
 [[ftArmGray,ftArmLines,ftArmFitted,ftArmAperiodic],[ftLegGray,ftLegLines,ftLegFitted,ftLegAperiodic],[ftIpsiGray,ftIpsiLines,ftIpsiFitted,ftIpsiAperiodic],[ftContraGray,ftContraLines,ftContraFitted,ftContraAperiodic]],
 [[ptArmGray,ptArmLines,ptArmFitted,ptArmAperiodic],[ptLegGray,ptLegLines,ptLegFitted,ptLegAperiodic],[ptIpsiGray,ptIpsiLines,ptIpsiFitted,ptIpsiAperiodic],[ptContraGray,ptContraLines,ptContraFitted,ptContraAperiodic]]];
const psdRoot=document.getElementById('psd');
function psdPoly(row,left,v){return v.map(function(val,i){return (left+i*psdWidth/5).toFixed(1)+','+(row.zero-val*row.unit).toFixed(1);}).join(' ');}
function psdCurve(row,left,v){
 const y=function(u){return row.zero-u*row.unit;};
 const c=2*v[1]-(v[0]+v[2])/2;
 return 'M'+left+' '+y(v[0]).toFixed(1)+'Q'+(left+psdWidth/2)+' '+y(c).toFixed(1)+' '+(left+psdWidth)+' '+y(v[2]).toFixed(1);
}
psdRows.forEach(function(row,r){
 const ax=mk('path',{d:'M258 '+row.zero+'H242V'+(row.zero+2*row.unit)+'H258',fill:'none',stroke:'#111','stroke-width':2.5},psdRoot);
 
 
 const t0=mk('text',{x:226,y:row.l0,'class':'m','font-size':26},psdRoot);
 t0.textContent='0';
 
 
 const t2=mk('text',{x:220,y:row.l2,'class':'m','font-size':26},psdRoot);
 t2.textContent='-2';
 
 
 psdSets[r].forEach(function(set,p){
  const left=psdLefts[p];
  const g=mk('g',{},psdRoot);
  
  
  set[1].forEach(function(v){
   const el=v.length===3?mk('path',{d:psdCurve(row,left,v),fill:'none',stroke:limbColors[p].line,'stroke-width':1.9},g):mk('polyline',{points:psdPoly(row,left,v),fill:'none',stroke:limbColors[p].line,'stroke-width':1.9},g);
   
   
  });
  set[0].forEach(function(v){
   const el=mk('polyline',{points:psdPoly(row,left,v),fill:'none',stroke:'#e4e4e4','stroke-width':2.2},g);
   
   
  });
  const a=mk('polyline',{points:psdPoly(row,left,set[3]),fill:'none',stroke:limbColors[p].avg,'stroke-width':8},g);
  
  
  const f=mk('polyline',{points:psdPoly(row,left,set[2]),fill:'none',stroke:'#000','stroke-width':6},g);
  
  
 });
});

// ---------- Section B bars ----------
const barColors=['#7543ed','#3a0ca3','#7fca80','#4dbf4e','#78d4f5','#4ac6f0','#f95fa5','#f72586'];
const barMetrics=[
 {name:'peaks',base:1119,unit:106.3,ft:peaksFT,fte:peaksFTErr,pt:peaksPT,pte:peaksPTErr},
 {name:'frequency',base:1301,unit:92,ft:freqFT,fte:freqFTErr,pt:freqPT,pte:freqPTErr},
 {name:'power',base:1472,unit:45.7,ft:powerFT,fte:powerFTErr,pt:powerPT,pte:powerPTErr},
 {name:'bandwidth',base:1621,unit:54.3,ft:bandFT,fte:bandFTErr,pt:bandPT,pte:bandPTErr}];
const barsRoot=document.getElementById('bars');
function barX(start,i){return start+Math.floor(i/2)*101+(i%2)*38.5;}
barMetrics.forEach(function(m){
 const y=function(v){return m.base-v*m.unit;};
 const ax=mk('path',{d:'M138 '+y(1)+'H122V'+m.base+'H138',fill:'none',stroke:'#111','stroke-width':2.5},barsRoot);
 
 
 barTickLabels.forEach(function(lbl){
  const t=mk('text',{x:109,y:y(+lbl),'class':'m','font-size':26},barsRoot);
  t.textContent=lbl;
  
  
 });
 [[143,m.ft,m.fte,517],[603,m.pt,m.pte,978]].forEach(function(s){
  s[1].forEach(function(v,i){
   const x=barX(s[0],i);
   const r=mk('rect',{x:x,y:y(v),width:31.5,height:v*m.unit,fill:barColors[i]},barsRoot);
   
   
   const e=mk('path',{d:'M'+(x+15.75)+' '+y(v)+'V'+y(s[2][i])+'M'+(x+12.5)+' '+y(s[2][i])+'h6.5',fill:'none',stroke:'#555','stroke-width':1.4},barsRoot);
   
   
  });
  const d=mk('line',{x1:s[0],x2:s[3],y1:m.base,y2:m.base,stroke:'#6e6e6e','stroke-width':2.6,'stroke-dasharray':'5 1.5'},barsRoot);
  
  
 });
});

// ---------- Histograms ----------
const histFill=['#9c86d4','#a8e0a8','#a6e3f5','#fc90c4'];
const histBases=[1100,1280.7,1461,1642];
const histColumns=[
 {name:'full-term',zero:1142.6,scale:70.2,starts:histFTStarts,sets:[histFTArm,histFTLeg,histFTIpsi,histFTContra],lefts:[-.01,.03,-.01,.05]},
 {name:'preterm',zero:1394,scale:70.4,starts:histPTStarts,sets:[histPTArm,histPTLeg,histPTIpsi,histPTContra],lefts:[-.04,-.04,-.04,-.04]}];
const histRoot=document.getElementById('hists');
const pctPx=7.17, binHz=.197, spanHz=2.94;
histColumns.forEach(function(col){
 const X=function(h){return col.zero+h*col.scale;};
 col.sets.forEach(function(vals,r){
  const base=histBases[r], right=col.lefts[r]+spanHz;
  const bl=mk('line',{x1:X(col.lefts[r]),x2:X(right),y1:base,y2:base,stroke:'#222','stroke-width':2},histRoot);
  
  
  vals.forEach(function(v,i){
   if(!v) return;
   const h0=col.starts[r]+i*binHz, h1=Math.min(h0+binHz,right);
   const b=mk('rect',{x:X(h0),y:base-v*pctPx,width:X(h1)-X(h0),height:v*pctPx,fill:histFill[r],stroke:'#2b2b2b','stroke-width':2.3},histRoot);
   
   
  });
 });
 let d='';
 histXTicks.forEach(function(t){d+='M'+X(t)+' 1649V1661';});
 d+='M'+X(0)+' 1661H'+X(3);
 const xa=mk('path',{d:d,fill:'none',stroke:'#222','stroke-width':2.5},histRoot);
 
 
 histXTicks.forEach(function(t){
  const l=mk('text',{x:X(t)+1,y:1680,'class':'m','font-size':25},histRoot);
  l.textContent=t;
  
  
 });
});
const histYAxis=mk('path',{d:'M1131 '+(1642.7-20*pctPx)+'H1116V1642.7H1131M1116 '+(1642.7-10*pctPx)+'H1131',fill:'none',stroke:'#111','stroke-width':2.5},histRoot);


histYTicks.forEach(function(t){
 const l=mk('text',{x:1105,y:1642.7-t*pctPx+2,'class':'e','font-size':25},histRoot);
 l.textContent=t;
 
 
});

// ---------- Section C swarms ----------
const swarmRoot=document.getElementById('swarms');
const swarmRing=['#7543ed','#3a0ca3','#7fca80','#4dbf4e','#78d4f5','#4ac6f0','#f95fa5','#f72586'];
function beeswarm(pxYs,D){
 const placed=[];
 pxYs.forEach(function(py){
  let off=0,k=0;
  for(;;){
   const candidate=(k%2?1:-1)*Math.ceil(k/2);
   const hit=placed.some(function(p){const dx=p.x-candidate,dy=p.y-py;return dx*dx+dy*dy<D*D;});
   if(!hit){off=candidate;break;}
   k++;
  }
  placed.push({x:off,y:py});
 });
 return placed;
}
function center(start,step,i){return start+Math.floor(i/2)*step+(i%2)*46.7;}
function drawSwarmRow(o){
 const y=function(v){return o.zero-v*o.unit;};
 o.means.forEach(function(v,i){
  const cx=center(o.start,o.step,i);
  const r=mk('rect',{x:cx-28,y:Math.min(y(v),y(0)),width:56.5,height:Math.abs(v)*o.unit,fill:swarmRing[i]},swarmRoot);
  
  
 });
 o.pts.forEach(function(vals,i){
  const cx=center(o.start,o.step,i);
  beeswarm(vals.map(y),7.6).forEach(function(p){
   const c=mk('circle',{cx:cx+p.x,cy:p.y,r:4.3,fill:'#fff',stroke:swarmRing[i],'stroke-width':3},swarmRoot);
   
   
  });
  const top=y(o.errA[i]), bot=y(o.errB[i]);
  const capY=o.capAtB?bot:top;
  const e=mk('path',{d:'M'+cx+' '+top+'V'+bot+'M'+(cx-7)+' '+capY+'h14',fill:'none',stroke:'#111','stroke-width':1.5},swarmRoot);
  
  
 });
}
const expAxis=mk('path',{d:'M334 2029H319V2094H334',fill:'none',stroke:'#111','stroke-width':2.5},swarmRoot);


const offAxis=mk('path',{d:'M341 2188H325V2260H341',fill:'none',stroke:'#111','stroke-width':2.5},swarmRoot);


const swarmTicks=[['2',306,2030],['0',306,2096],['0',310,2192],['-1',300,2262]];
swarmTicks.forEach(function(t){
 const l=mk('text',{x:t[1],y:t[2],'class':'m','font-size':26},swarmRoot);
 l.textContent=t[0];
 
 
});
const offBarTopFT=offMeansFT.map(function(v){return v-.03;});
const offBarTopPT=offMeansPT.map(function(v){return v-.03;});
drawSwarmRow({name:'exponent',zero:2094.7,unit:32.5,start:372.4,step:116.3,means:expMeansFT,pts:expPtsFT,errA:expErrTopFT,errB:expErrBotFT,capAtB:false});
drawSwarmRow({name:'exponent',zero:2094.7,unit:32.5,start:876.6,step:116.4,means:expMeansPT,pts:expPtsPT,errA:expErrTopPT,errB:expErrBotPT,capAtB:false});
drawSwarmRow({name:'offset',zero:2188,unit:71.5,start:372.4,step:116.3,means:offMeansFT,pts:offPtsFT,errA:offBarTopFT,errB:offErrFT,capAtB:true});
drawSwarmRow({name:'offset',zero:2188,unit:71.5,start:876.6,step:116.4,means:offMeansPT,pts:offPtsPT,errA:offBarTopPT,errB:offErrPT,capAtB:true});
</script>
</body></html>
